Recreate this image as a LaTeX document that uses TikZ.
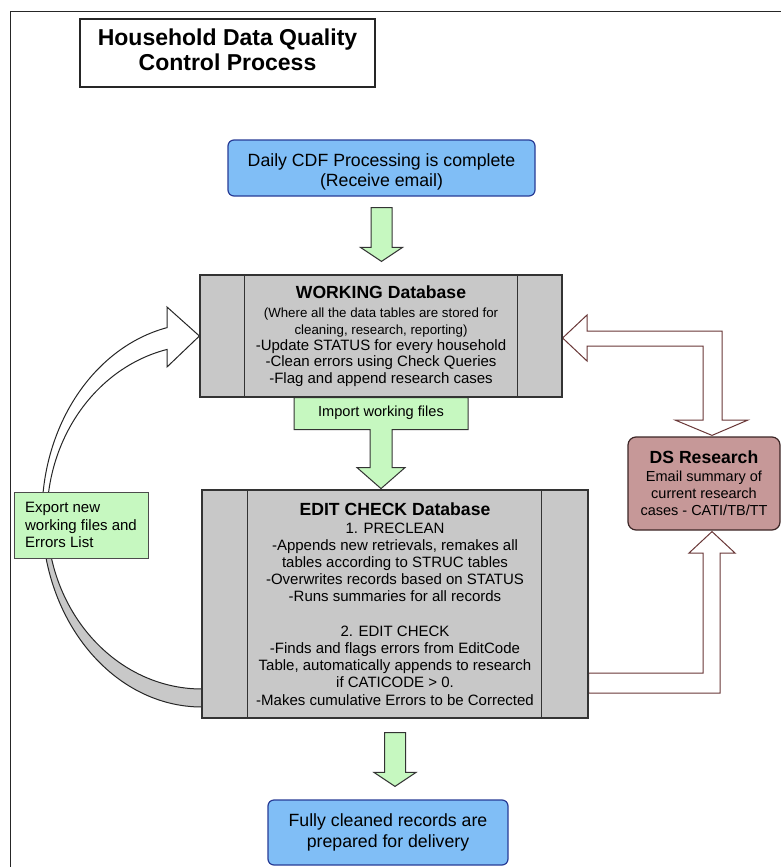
\documentclass[tikz,border=0pt]{standalone}
\usepackage{fontspec}
\setmainfont{Liberation Sans}
\usetikzlibrary{calc, backgrounds}

\definecolor{boxblue}{RGB}{128,190,246}
\definecolor{blueline}{RGB}{40,60,150}
\definecolor{boxgreen}{RGB}{198,248,192}
\definecolor{dbgray}{RGB}{200,200,200}
\definecolor{dsrose}{RGB}{198,152,152}
\definecolor{dsline}{RGB}{60,38,38}
\definecolor{arrowred}{RGB}{105,55,55}

% green block arrow pointing down, from #1 (top of shaft) to #2 (tip)
\newcommand{\blockdown}[2]{%
  \draw[garrow] let \p1=#1, \p2=#2 in
    (\x1-10.5pt,\y1) -- (\x1+10.5pt,\y1) -- (\x1+10.5pt,\y2+14pt) -- (\x1+21pt,\y2+14pt)
    -- (\x1,\y2) -- (\x1-21pt,\y2+14pt) -- (\x1-10.5pt,\y2+14pt) -- cycle;}

\begin{document}
\begin{tikzpicture}[x=1pt, y=-1pt,
    titlebox/.style={draw=black!85, line width=1.6pt, minimum width=295pt, minimum height=68pt, inner sep=0pt, text depth=7pt, align=center, font=\fontsize{23}{25}\selectfont\bfseries},
    endbox/.style={draw=blueline, fill=boxblue, rounded corners=6pt, line width=1.2pt, inner sep=0pt, align=center, font=\fontsize{17.7}{20.5}\selectfont},
    dbbox/.style={draw=black!80, fill=dbgray, line width=1.2pt, inner sep=0pt, align=center},
    notebox/.style={draw=black!70, fill=boxgreen, line width=1pt, inner sep=0pt, align=left, font=\fontsize{15}{17.5}\selectfont},
    dsbox/.style={draw=dsline, fill=dsrose, rounded corners=8pt, line width=1.2pt, inner sep=0pt, align=center, font=\fontsize{14.5}{17}\selectfont},
    garrow/.style={draw=black!80, fill=boxgreen, line width=1pt},
    rarrow/.style={draw=arrowred, fill=white, line width=1pt}
]
\useasboundingbox (0,0) rectangle (781,867);

% boxes
\node[titlebox] (title) at (227.5,53) {Household Data Quality\\Control Process};
\node[endbox, minimum width=307pt, minimum height=56pt, text height=41.5pt] (cdf) at (381.5,168)
  {Daily CDF Processing is complete\\(Receive email)};
\node[dbbox, minimum width=362pt, minimum height=122pt, font=\fontsize{15}{16.4}\selectfont] (work) at (381,336)
  {{\fontsize{17.6}{20}\selectfont\bfseries WORKING Database}\\[3pt]
   {\fontsize{13.3}{16}\selectfont (Where all the data tables are stored for}\\
   {\fontsize{13.3}{16}\selectfont cleaning, research, reporting)}\\
   -Update STATUS for every household\\
   -Clean errors using Check Queries\\
   -Flag and append research cases};
\node[dbbox, minimum width=386pt, minimum height=228pt, font=\fontsize{15}{17.2}\selectfont] (edit) at (395,604)
  {{\fontsize{17.6}{20}\selectfont\bfseries EDIT CHECK Database}\\[0.5pt]
   1. PRECLEAN\\
   -Appends new retrievals, remakes all\\
   tables according to STRUC tables\\
   -Overwrites records based on STATUS\\
   -Runs summaries for all records\\[17.2pt]
   2. EDIT CHECK\\
   -Finds and flags errors from EditCode\\
   Table, automatically appends to research\\
   if CATICODE > 0.\\
   -Makes cumulative Errors to be Corrected};
\node[endbox, minimum width=240pt, minimum height=65pt] (fin) at (388,832.5)
  {Fully cleaned records are\\prepared for delivery};
\node[notebox, minimum width=134pt, minimum height=66pt] (export) at (81,525)
  {Export new\\working files and\\Errors List};
\node[dsbox, minimum width=152pt, minimum height=93pt] (ds) at (704,483.5)
  {{\fontsize{17.6}{20}\selectfont\bfseries DS Research}\\[1pt]
   Email summary of\\current research\\cases - CATI/TB/TT};

% inner lines of the database boxes
\draw[black!80, line width=1pt] ([xshift=45pt]work.north west) -- ([xshift=45pt]work.south west);
\draw[black!80, line width=1pt] ([xshift=-45pt]work.north east) -- ([xshift=-45pt]work.south east);
\draw[black!80, line width=1pt] ([xshift=46pt]edit.north west) -- ([xshift=46pt]edit.south west);
\draw[black!80, line width=1pt] ([xshift=-47pt]edit.north east) -- ([xshift=-47pt]edit.south east);

% import callout
\draw[garrow] ($(work.south)+(-87,0)$) -- ++(174,0) -- ++(0,32) -- ($(work.south)+(11,32)$) -- ++(0,38)
  -- ++(13,0) -- ($(work.south)+(0,91)$) -- ($(work.south)+(-24,70)$) -- ++(13,0) -- ++(0,-38)
  -- ($(work.south)+(-87,32)$) -- cycle;
\node[font=\fontsize{14.6}{16}\selectfont] (imp) at ($(work.south)+(0,15)$) {Import working files};

% green arrows
\blockdown{($(cdf.south)+(0,11)$)}{($(work.north)+(0,-13)$)}
\blockdown{($(edit.south)+(0,14)$)}{($(fin.north)+(0,-13)$)}

\begin{scope}[on background layer]
% frame
\draw[black!85, line width=1pt] (10,867) -- (10,12) -- (781,12);
% export arrow: white front, grey back
\draw[black!85, line width=1pt, fill=white] (167.1,327.6) arc[start angle=257.4, end angle=180, x radius=160, y radius=192]
  -- (47,517) arc[start angle=180, end angle=256.95, x radius=155, y radius=172]
  -- (167,367) -- (work.west) -- (167,307) -- cycle;
\draw[black!85, line width=1pt, fill=dbgray] (42,515) arc[start angle=180, end angle=90, x radius=160, y radius=192]
  -- (202,689) arc[start angle=90, end angle=180, x radius=155, y radius=172] -- cycle;
% research arrows
\draw[rarrow] ($(work.east)+(0,2)$) -- (587,315) -- (587,331) -- (722,331) -- (722,420) -- (748,420)
  -- ($(ds.north)+(8,-1)$) -- (675,420) -- (703,420) -- (703,346) -- (587,346) -- (587,361) -- cycle;
\draw[rarrow] (edit.east |- 0,673) -- (703,673) -- (703,553) -- (689,553) -- ($(ds.south)+(8,1)$)
  -- (735,553) -- (720,553) -- (720,693) -- (edit.east |- 0,693) -- cycle;
\end{scope}
\end{tikzpicture}
\end{document}
